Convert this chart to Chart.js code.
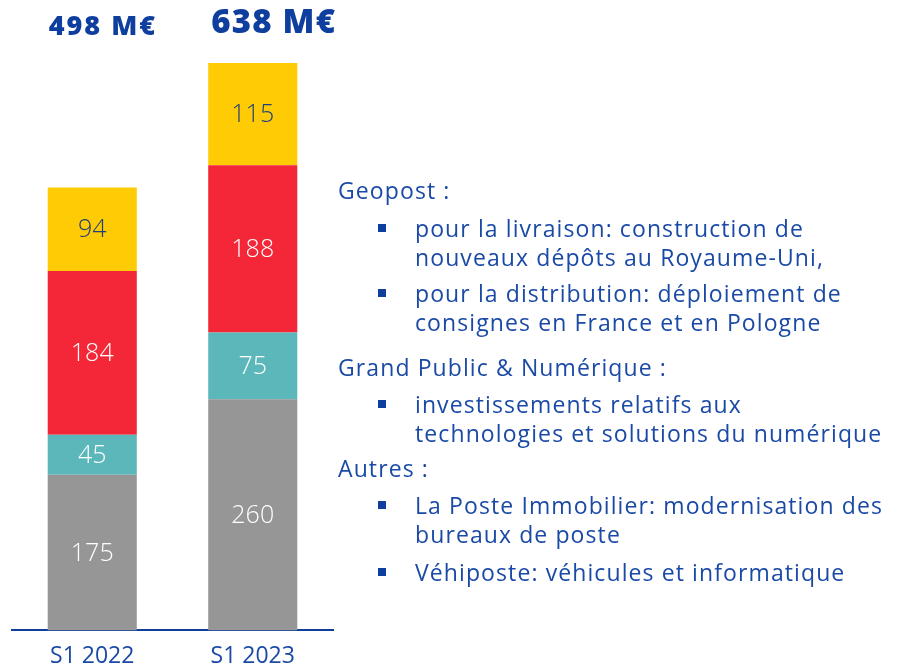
<!DOCTYPE html>
<html>
<head>
<meta charset="utf-8">
<script src="https://cdn.jsdelivr.net/npm/chart.js@4/dist/chart.umd.min.js"></script>
<style>
  html, body { margin: 0; padding: 0; background: #fff; }
  #wrap { position: relative; width: 899px; height: 664px; overflow: hidden; }
  #c { position: absolute; left: 0; top: 0; }
  .t { position: absolute; white-space: nowrap; color: #1a4aa6; font-family: "Open Sans", sans-serif; font-size: 23px; letter-spacing: 1.1px; line-height: 30px; }
  .b { position: absolute; width: 8px; height: 8px; background: #0f3f9e; }
</style>
</head>
<body>
<div id="wrap">
  <canvas id="c" width="899" height="682"></canvas>
  <div id="txt"></div>
</div>
<script>
const categories = ["S1 2022", "S1 2023"];
const totals = ["498 M€", "638 M€"];
const autres = [175, 260];
const grandPublic = [45, 75];
const geopost = [184, 188];
const serviceCourrier = [94, 115];
const seriesValues = [autres, grandPublic, geopost, serviceCourrier];
const seriesColors = ["#969696", "#5bb7ba", "#f32738", "#ffcb05"];
const labelColors = ["#ffffff", "#ffffff", "#ffffff", "#1f3f7a"];

const textLines = [
  { kind: "h", text: "Geopost :", y: 191 },
  { kind: "bl", text: "pour la livraison: construction de", y: 229 },
  { kind: "l", text: "nouveaux dépôts au Royaume-Uni,", y: 258 },
  { kind: "bl", text: "pour la distribution: déploiement de", y: 294 },
  { kind: "l", text: "consignes en France et en Pologne", y: 323 },
  { kind: "h", text: "Grand Public & Numérique :", y: 368 },
  { kind: "bl", text: "investissements relatifs aux", y: 405 },
  { kind: "l", text: "technologies et solutions du numérique", y: 434 },
  { kind: "h", text: "Autres :", y: 469 },
  { kind: "bl", text: "La Poste Immobilier: modernisation des", y: 506 },
  { kind: "l", text: "bureaux de poste", y: 535 },
  { kind: "bl", text: "Véhiposte: véhicules et informatique", y: 573 }
];

const txt = document.getElementById('txt');
textLines.forEach(l => {
  const d = document.createElement('div');
  d.className = 't';
  d.textContent = l.text;
  d.style.left = (l.kind === 'h' ? 338 : 415) + 'px';
  d.style.top = (l.y - 16) + 'px';
  txt.appendChild(d);
  if (l.kind === 'bl') {
    const b = document.createElement('div');
    b.className = 'b';
    b.style.left = '378px';
    b.style.top = (l.y - 5) + 'px';
    txt.appendChild(b);
  }
});

const FONT = "'Open Sans', sans-serif";

const labelsPlugin = {
  id: 'labelsPlugin',
  afterDatasetsDraw(chart) {
    const ctx = chart.ctx;
    ctx.save();
    ctx.textAlign = 'center';
    ctx.textBaseline = 'middle';
    chart.data.datasets.forEach((ds, di) => {
      const meta = chart.getDatasetMeta(di);
      meta.data.forEach((bar, i) => {
        const y = (bar.y + bar.base) / 2;
        ctx.fillStyle = labelColors[di];
        ctx.font = "300 25px " + FONT;
        ctx.fillText(String(ds.data[i]), bar.x, y + 1);
      });
    });
    // totals
    const top = chart.getDatasetMeta(0).data;
    ctx.textAlign = 'left';
    ctx.fillStyle = '#0f3f9e';
    top.forEach((bar, i) => {
      const left = bar.x - bar.width / 2;
      ctx.font = (i === 0 ? "800 27px " : "800 33px ") + FONT;
      ctx.letterSpacing = i === 0 ? '2px' : '1.2px';
      ctx.fillText(totals[i], left + (i === 0 ? 1 : 3), i === 0 ? 27 : 24);
    });
    ctx.restore();
  }
};

new Chart(document.getElementById('c'), {
  type: 'bar',
  data: {
    labels: categories,
    datasets: seriesValues.map((v, i) => ({
      data: v,
      backgroundColor: seriesColors[i],
      borderWidth: 0,
      barPercentage: 0.555,
      categoryPercentage: 1.0
    }))
  },
  options: {
    responsive: false,
    animation: false,
    layout: { padding: { left: 12, right: 899 - 333, top: 63, bottom: 0 } },
    plugins: { legend: { display: false }, tooltip: { enabled: false } },
    scales: {
      x: {
        stacked: true,
        grid: { display: false, drawTicks: false },
        border: { display: true, color: '#0f3f9e', width: 2 },
        ticks: { color: '#1a4aa6', font: { family: FONT, size: 23 }, padding: 12 }
      },
      y: {
        stacked: true,
        display: false,
        min: 0,
        max: 638
      }
    }
  },
  plugins: [labelsPlugin]
});
</script>
</body>
</html>
